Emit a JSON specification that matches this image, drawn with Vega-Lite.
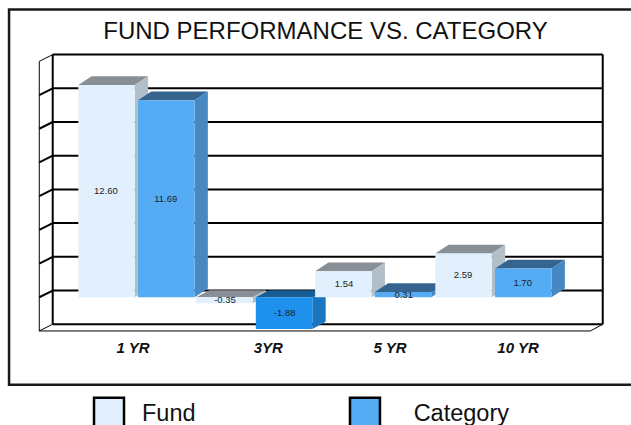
{
"$schema":"https://vega.github.io/schema/vega-lite/v6.json",
"width":631,"height":425,"padding":0,"autosize":"none","background":"white",
"title":{"text":"FUND PERFORMANCE VS. CATEGORY","font":"Liberation Sans","fontSize":24,"fontWeight":"normal","color":"#111","anchor":"middle","frame":"group","orient":"top","offset":0,"baseline":"alphabetic","dx":10,"dy":63},
"config":{"view":{"stroke":null},"axis":{"disable":true},"text":{"font":"Liberation Sans"}},
"datasets":{
"bars":[
{"period":"1 YR","series":"Fund","value":12.60},{"period":"1 YR","series":"Category","value":11.69},
{"period":"3YR","series":"Fund","value":-0.35},{"period":"3YR","series":"Category","value":-1.88},
{"period":"5 YR","series":"Fund","value":1.54},{"period":"5 YR","series":"Category","value":0.31},
{"period":"10 YR","series":"Fund","value":2.59},{"period":"10 YR","series":"Category","value":1.70}],
"levels":[{"level":0},{"level":2},{"level":4},{"level":6},{"level":8},{"level":10},{"level":12}],
"edges":[{"level":-2},{"level":14}]
},
"layer":[
{"data":{"values":[{"part":"frame"}]},
 "mark":{"type":"rect","fill":null,"stroke":"#1a1a1a","strokeWidth":2.5},
 "encoding":{
  "x":{"datum":-0.582,"type":"quantitative","scale":{"domain":[-0.658,4.6445],"nice":false,"zero":false}},
  "x2":{"datum":5},
  "y":{"datum":17.08,"type":"quantitative","scale":{"domain":[-7.58,17.64],"nice":false,"zero":false}},
  "y2":{"datum":-5.19}}},
{"data":{"name":"levels"},"transform":[{"calculate":"datum.level+0.4","as":"back"}],
 "mark":{"type":"rule","color":"black","strokeWidth":2},
 "encoding":{"x":{"datum":-0.215,"type":"quantitative"},"x2":{"datum":4.407},"y":{"field":"back","type":"quantitative"}}},
{"data":{"name":"edges"},"transform":[{"calculate":"datum.level+0.4","as":"back"}],
 "mark":{"type":"rule","color":"black","strokeWidth":2},
 "encoding":{"x":{"datum":-0.215,"type":"quantitative"},"x2":{"datum":4.407},"y":{"field":"back","type":"quantitative"}}},
{"data":{"name":"levels"},"transform":[{"calculate":"datum.level+0.4","as":"back"}],
 "mark":{"type":"rule","color":"black","strokeWidth":2},
 "encoding":{"x":{"datum":-0.328,"type":"quantitative"},"x2":{"datum":-0.215},"y":{"field":"level","type":"quantitative"},"y2":{"field":"back"}}},
{"data":{"name":"edges"},"transform":[{"calculate":"datum.level+0.4","as":"back"}],
 "mark":{"type":"rule","color":"black","strokeWidth":1},
 "encoding":{"x":{"datum":-0.328,"type":"quantitative"},"x2":{"datum":-0.215},"y":{"field":"level","type":"quantitative"},"y2":{"field":"back"}}},
{"data":{"values":[{"part":"wall"}]},"mark":{"type":"rule","color":"black","strokeWidth":1},
 "encoding":{"x":{"datum":-0.328,"type":"quantitative"},"y":{"datum":-2,"type":"quantitative"},"y2":{"datum":14}}},
{"data":{"values":[{"part":"wall"}]},"mark":{"type":"rule","color":"black","strokeWidth":2},
 "encoding":{"x":{"datum":-0.215,"type":"quantitative"},"y":{"datum":-1.6,"type":"quantitative"},"y2":{"datum":14.4}}},
{"data":{"values":[{"part":"wall"}]},"mark":{"type":"rule","color":"black","strokeWidth":2},
 "encoding":{"x":{"datum":4.407,"type":"quantitative"},"y":{"datum":-1.6,"type":"quantitative"},"y2":{"datum":14.4}}},
{"data":{"values":[{"part":"floor"}]},"mark":{"type":"rule","color":"black","strokeWidth":1},
 "encoding":{"x":{"datum":-0.328,"type":"quantitative"},"x2":{"datum":4.304},"y":{"datum":-2,"type":"quantitative"}}},
{"data":{"values":[{"part":"floor"}]},"mark":{"type":"rule","color":"black","strokeWidth":1},
 "encoding":{"x":{"datum":4.304,"type":"quantitative"},"x2":{"datum":4.407},"y":{"datum":-2,"type":"quantitative"},"y2":{"datum":-1.6}}},
{"data":{"name":"bars"},
 "transform":[
  {"calculate":"indexof(['1 YR','3YR','5 YR','10 YR'],datum.period)","as":"g"},
  {"calculate":"datum.g+(datum.series==='Category'?0.5017:0)+(datum.g==1||datum.g==2?-0.01:0)","as":"xL"},
  {"calculate":"datum.xL+0.475","as":"xR"},
  {"calculate":"datum.g==1?0.42:0.52","as":"dy"},
  {"calculate":"max(datum.value,0)","as":"top"},
  {"calculate":"min(datum.value,0)","as":"base"},
  {"calculate":"[{f:'top',x:datum.xL,y:datum.top,y2:datum.top},{f:'top',x:datum.xL+0.112,y:datum.top+datum.dy,y2:datum.top},{f:'top',x:datum.xR,y:datum.top+datum.dy,y2:datum.top},{f:'top',x:datum.xR+0.112,y:datum.top+datum.dy,y2:datum.top+datum.dy},{f:'side',x:datum.xR,y:datum.top,y2:datum.base},{f:'side',x:datum.xR+0.112,y:datum.top+datum.dy,y2:datum.base+datum.dy},{f:'front',x:datum.xL,y:datum.top,y2:datum.base},{f:'front',x:datum.xR,y:datum.top,y2:datum.base}]","as":"v"},
  {"flatten":["v"]},
  {"calculate":"datum.v.x","as":"vx"},
  {"calculate":"datum.v.y","as":"vy"},
  {"calculate":"datum.v.y2","as":"vy2"},
  {"calculate":"(datum.series==='Category'&&datum.value<0?'Strong':datum.series)+(datum.v.f==='front'?'':' '+datum.v.f)","as":"face"},
  {"calculate":"datum.period+'/'+datum.series+'/'+datum.v.f","as":"piece"}
 ],
 "mark":{"type":"area","opacity":1,"line":false},
 "encoding":{
  "x":{"field":"vx","type":"quantitative"},
  "y":{"field":"vy","type":"quantitative"},
  "y2":{"field":"vy2"},
  "detail":{"field":"piece"},
  "color":{"field":"face","type":"nominal",
   "scale":{"domain":["Fund","Category","Fund top","Fund side","Category top","Category side","Strong","Strong top","Strong side"],
            "range":["#E1F0FC","#55ACF5","#888F96","#B2BFC9","#35658F","#4788C2","#1E90EE","#175C92","#1A76C0"]},
   "legend":null}
 }},
{"data":{"name":"bars"},
 "transform":[
  {"calculate":"indexof(['1 YR','3YR','5 YR','10 YR'],datum.period)","as":"g"},
  {"calculate":"datum.g+(datum.series==='Category'?0.5017:0)+0.2375-0.005","as":"xm"},
  {"calculate":"datum.value/2","as":"ym"},
  {"calculate":"replace(format(datum.value,'.2f'),'\u2212','-')","as":"lab"}
 ],
 "mark":{"type":"text","font":"Liberation Sans","fontSize":9.5,"color":"#222","align":"center","baseline":"middle"},
 "encoding":{
  "x":{"field":"xm","type":"quantitative"},
  "y":{"field":"ym","type":"quantitative"},
  "text":{"field":"lab","type":"nominal"}}},
{"data":{"name":"bars"},
 "transform":[
  {"filter":"datum.series==='Fund'"},
  {"calculate":"indexof(['1 YR','3YR','5 YR','10 YR'],datum.period)","as":"g"},
  {"calculate":"datum.g+[0.46,0.597,0.62,0.695][datum.g]","as":"xl"}
 ],
 "mark":{"type":"text","font":"Liberation Sans","fontSize":15,"fontWeight":"bold","fontStyle":"italic","color":"#111","align":"center","baseline":"middle"},
 "encoding":{
  "x":{"field":"xl","type":"quantitative"},
  "y":{"datum":-3,"type":"quantitative"},
  "text":{"field":"period","type":"nominal"}}},
{"data":{"name":"bars"},
 "transform":[
  {"filter":"datum.period==='1 YR'"},
  {"calculate":"datum.series==='Fund'?0.258:2.409","as":"kx"}
 ],
 "mark":{"type":"square","size":900,"opacity":1,"stroke":"black","strokeWidth":2.5,"filled":true},
 "encoding":{
  "x":{"field":"kx","type":"quantitative"},
  "y":{"datum":-6.85,"type":"quantitative"},
  "color":{"field":"series","type":"nominal","legend":null}}},
{"data":{"name":"bars"},
 "transform":[
  {"filter":"datum.period==='1 YR'"},
  {"calculate":"datum.series==='Fund'?0.535:2.818","as":"kx"}
 ],
 "mark":{"type":"text","font":"Liberation Sans","fontSize":23.5,"color":"#111","align":"left","baseline":"middle"},
 "encoding":{
  "x":{"field":"kx","type":"quantitative"},
  "y":{"datum":-6.95,"type":"quantitative"},
  "text":{"field":"series","type":"nominal"}}}
]
}
